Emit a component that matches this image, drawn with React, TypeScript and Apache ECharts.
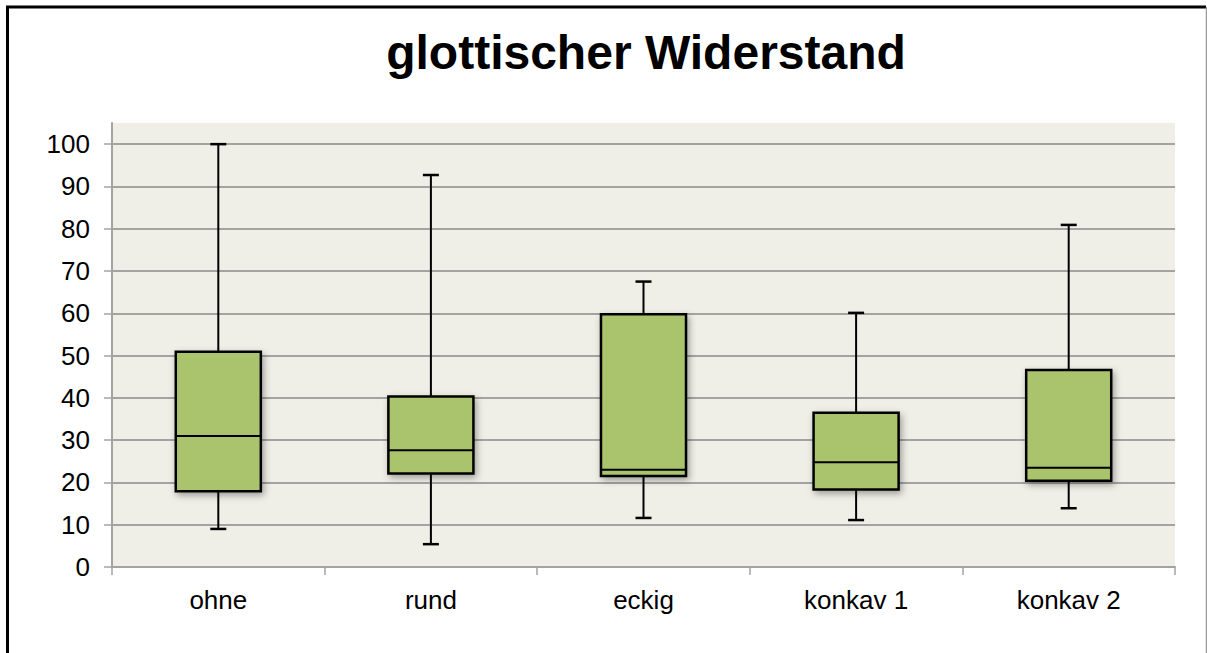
import React, { useEffect, useRef } from "react";
import * as echarts from "echarts";

const categories = ["ohne", "rund", "eckig", "konkav 1", "konkav 2"];
const minValues = [9.0, 5.4, 11.6, 11.1, 13.9];
const q1Values = [17.9, 22.1, 21.5, 18.3, 20.4];
const medianValues = [31.0, 27.6, 23.0, 24.8, 23.5];
const q3Values = [50.9, 40.3, 59.8, 36.5, 46.6];
const maxValues = [100.0, 92.7, 67.5, 60.1, 80.9];
const yTicks = [0, 10, 20, 30, 40, 50, 60, 70, 80, 90, 100];
const titleText = "glottischer Widerstand";

const FONT = '"Liberation Sans", Arial, Helvetica, sans-serif';

export default function App() {
  const ref = useRef<HTMLDivElement>(null);

  useEffect(() => {
    if (!ref.current) return;
    const chart = echarts.init(ref.current, undefined, { renderer: "svg" });

    const data = categories.map((_, i) => [
      i,
      minValues[i],
      q1Values[i],
      medianValues[i],
      q3Values[i],
      maxValues[i],
    ]);

    const renderItem = (params: any, api: any) => {
      const idx = api.value(0);
      const pMin = api.coord([idx, api.value(1)]);
      const pQ1 = api.coord([idx, api.value(2)]);
      const pMed = api.coord([idx, api.value(3)]);
      const pQ3 = api.coord([idx, api.value(4)]);
      const pMax = api.coord([idx, api.value(5)]);
      const cx = pMed[0];
      const bw = api.size([1, 0])[0] * 0.4;
      const cap = 8;
      const stroke = { stroke: "#000", lineWidth: 2 };
      return {
        type: "group",
        children: [
          { type: "line", shape: { x1: cx, y1: pMax[1], x2: cx, y2: pQ3[1] }, style: stroke },
          { type: "line", shape: { x1: cx, y1: pQ1[1], x2: cx, y2: pMin[1] }, style: stroke },
          { type: "line", shape: { x1: cx - cap, y1: pMax[1], x2: cx + cap, y2: pMax[1] }, style: { stroke: "#000", lineWidth: 2.5 } },
          { type: "line", shape: { x1: cx - cap, y1: pMin[1], x2: cx + cap, y2: pMin[1] }, style: { stroke: "#000", lineWidth: 2.5 } },
          {
            type: "rect",
            shape: { x: cx - bw / 2, y: pQ3[1], width: bw, height: pQ1[1] - pQ3[1] },
            style: {
              fill: "#a9c46c",
              stroke: "#000",
              lineWidth: 2.5,
              shadowBlur: 7,
              shadowColor: "rgba(0,0,0,0.35)",
              shadowOffsetX: 2,
              shadowOffsetY: 3,
            },
          },
          { type: "line", shape: { x1: cx - bw / 2, y1: pMed[1], x2: cx + bw / 2, y2: pMed[1] }, style: { stroke: "#000", lineWidth: 2 } },
        ],
      };
    };

    const option: any = {
      animation: false,
      backgroundColor: "#ffffff",
      title: {
        text: titleText,
        left: 641,
        top: 23,
        textAlign: "center",
        textStyle: { fontFamily: FONT, fontSize: 48, fontWeight: "bold", color: "#000" },
      },
      grid: {
        left: 112,
        right: 32,
        top: 123,
        bottom: 86,
        show: true,
        backgroundColor: "#efefe7",
        borderWidth: 0,
      },
      xAxis: {
        type: "category",
        data: categories,
        boundaryGap: true,
        axisLine: { show: true, lineStyle: { color: "#a3a3a3", width: 2 } },
        axisTick: { show: true, length: 8, alignWithLabel: false, lineStyle: { color: "#a3a3a3", width: 1.5 } },
        axisLabel: { margin: 20, fontFamily: FONT, fontSize: 26, color: "#000" },
        splitLine: { show: false },
      },
      yAxis: {
        type: "value",
        min: 0,
        max: 105,
        interval: 10,
        axisLine: { show: true, lineStyle: { color: "#a3a3a3", width: 2 } },
        axisTick: { show: true, length: 8, customValues: yTicks, lineStyle: { color: "#a3a3a3", width: 1.5 } },
        axisLabel: {
          margin: 22,
          fontFamily: FONT,
          fontSize: 26,
          color: "#000",
          customValues: yTicks,
        },
        splitLine: { show: true, lineStyle: { color: "#a3a3a3", width: 2 } },
      },
      series: [
        {
          type: "custom",
          renderItem,
          data,
          encode: { x: 0, y: [1, 2, 3, 4, 5] },
          clip: false,
        },
      ],
      graphic: [
        { type: "line", shape: { x1: 6, y1: 7, x2: 1206, y2: 7 }, style: { stroke: "#000", lineWidth: 3 } },
        { type: "line", shape: { x1: 7.5, y1: 6, x2: 7.5, y2: 660 }, style: { stroke: "#000", lineWidth: 3 } },
        { type: "line", shape: { x1: 1206.5, y1: 7, x2: 1206.5, y2: 660 }, style: { stroke: "#9a9a9a", lineWidth: 1.5 } },
      ],
    };

    chart.setOption(option);
    return () => chart.dispose();
  }, []);

  return (
    <div
      ref={ref}
      style={{ position: "fixed", left: 0, top: 0, width: 1207, height: 653, background: "#fff" }}
    />
  );
}
